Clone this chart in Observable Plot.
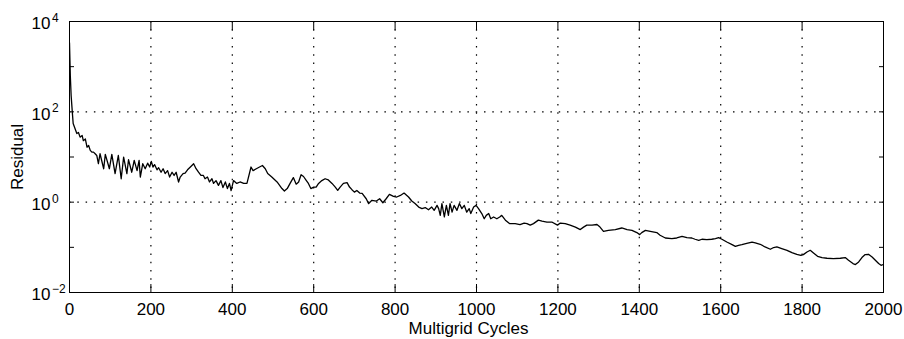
<!DOCTYPE html>
<html><head><meta charset="utf-8">
<script src="https://cdn.jsdelivr.net/npm/d3@7"></script>
<script src="https://cdn.jsdelivr.net/npm/@observablehq/plot@0.6"></script>
<style>
html,body{margin:0;padding:0;background:#fff;}
#chart{width:904px;height:339px;}
</style></head><body><div id="chart"></div>
<script>
const cycles = [
0,2,4,7,9,18,22,26,31,34,
39,43,47,51,55,59,63,67,71,75,
84,88,98,104,112,120,127,133,141,145,
153,159,166,171,174,180,186,192,197,201,
205,209,215,219,225,230,235,241,246,252,
257,262,268,272,279,284,290,297,305,311,
317,323,329,333,339,344,350,354,360,366,
372,377,383,388,393,397,403,411,419,428,
436,446,451,459,467,474,481,487,497,510,
522,528,535,542,550,557,563,569,575,582,
587,593,600,606,612,620,628,636,645,653,
659,665,673,682,688,694,700,706,713,719,
729,735,743,754,762,770,778,786,796,804,
813,822,833,841,849,858,866,874,882,890,
896,903,907,911,915,921,926,931,935,940,
945,952,958,964,970,976,982,986,993,999,
1005,1013,1019,1024,1030,1035,1042,1050,1057,1062,
1071,1081,1095,1107,1117,1124,1132,1140,1152,1161,
1173,1185,1199,1206,1218,1230,1243,1255,1263,1271,
1284,1296,1302,1312,1324,1341,1357,1370,1382,1394,
1401,1406,1415,1427,1443,1451,1464,1480,1492,1505,
1517,1529,1537,1546,1554,1566,1578,1587,1595,1603,
1615,1628,1636,1644,1652,1664,1677,1685,1697,1709,
1722,1730,1738,1750,1763,1775,1787,1797,1803,1812,
1820,1828,1838,1849,1861,1877,1894,1906,1914,1925,
1931,1939,1947,1955,1963,1972,1980,1988,1994,2000
];
const residual = [
3400,630,230,96,55,33,35,27.5,30,23,
25,16.5,18,14,12.8,12.8,11.8,10.8,7.1,11.8,
5.5,11.4,5.5,11.4,4.3,10.8,3.3,9.9,4.3,8.7,
4.6,8.4,5.0,8.4,3.6,7.1,5.5,7.3,6.0,8.0,
6.0,6.8,5.2,5.8,4.6,5.5,4.3,5.0,3.6,4.6,
3.9,4.6,2.8,3.6,4.3,4.4,5.2,6.0,7.1,5.5,
4.6,3.9,3.9,3.3,3.6,2.8,3.3,2.6,3.0,2.35,
3.0,2.1,2.8,2.0,2.6,1.8,3.0,2.6,2.8,2.6,
2.6,6.0,5.0,5.5,6.0,6.5,5.5,4.3,3.6,2.8,
2.0,1.76,2.0,2.6,3.5,2.5,2.8,4.05,3.7,3.0,
2.6,2.0,2.16,2.16,2.6,3.0,3.3,3.1,2.6,2.16,
1.82,2.16,2.6,2.7,2.16,1.89,1.67,1.82,1.59,1.56,
1.19,0.93,1.1,1.06,1.19,0.97,1.19,1.49,1.34,1.3,
1.41,1.59,1.3,1.06,0.93,0.78,0.72,0.76,0.68,0.78,
0.66,0.85,0.72,0.51,0.93,0.47,0.85,0.51,0.93,0.6,
0.85,0.66,0.93,0.72,0.85,0.6,0.72,0.56,0.78,0.85,
0.72,0.56,0.43,0.51,0.56,0.43,0.47,0.43,0.47,0.51,
0.4,0.335,0.335,0.32,0.345,0.335,0.31,0.335,0.4,0.38,
0.363,0.363,0.31,0.345,0.335,0.31,0.28,0.247,0.28,0.31,
0.31,0.32,0.29,0.226,0.238,0.247,0.268,0.247,0.238,0.212,
0.191,0.212,0.238,0.226,0.212,0.185,0.161,0.156,0.161,0.175,
0.164,0.161,0.151,0.143,0.151,0.148,0.151,0.156,0.164,0.151,
0.131,0.115,0.105,0.111,0.115,0.123,0.131,0.125,0.117,0.102,
0.0906,0.099,0.102,0.094,0.086,0.0766,0.0702,0.0667,0.069,0.0789,
0.086,0.075,0.0634,0.0593,0.0573,0.0564,0.0573,0.0593,0.0518,0.0437,
0.0416,0.0474,0.0593,0.0692,0.0702,0.0612,0.0518,0.0437,0.0401,0.0416
];
const xTicks = [0,200,400,600,800,1000,1200,1400,1600,1800,2000];
const xGrid = [200,400,600,800,1000,1200,1400,1600,1800];
const yMajor = [1e-2,1,1e2,1e4];
const yExponents = ["\u22122","0","2","4"];
const yTickMarks = [1e-2,1e-1,1,10,100,1e3,1e4];
const yGrid = [1,100];
const xLabel = "Multigrid Cycles";
const yLabel = "Residual";

const data = cycles.map((c, i) => ({cycle: c, residual: residual[i]}));
const font = "'Liberation Sans', Arial, Helvetica, sans-serif";
const dots = "1.5,6.8";

const chart = Plot.plot({
  width: 904, height: 339,
  marginLeft: 69, marginRight: 21, marginTop: 21, marginBottom: 47,
  style: {fontFamily: font, fontSize: "17px", background: "white", color: "black", overflow: "visible"},
  x: {domain: [0, 2000], label: null},
  y: {type: "log", domain: [1e-2, 1e4], label: null},
  marks: [
    Plot.gridX(xGrid, {stroke: "black", strokeOpacity: 1, strokeWidth: 1.2, strokeDasharray: dots}),
    Plot.gridY(yGrid, {stroke: "black", strokeOpacity: 1, strokeWidth: 1.2, strokeDasharray: dots}),
    Plot.axisX(xTicks, {anchor: "bottom", tickSize: -8, tickPadding: 18, label: null, tickFormat: d => String(d)}),
    Plot.axisX(xTicks, {anchor: "top", tickSize: -8, label: null, tickFormat: () => ""}),
    Plot.axisY(yTickMarks, {anchor: "left", tickSize: -5, label: null, tickFormat: () => ""}),
    Plot.axisY(yTickMarks, {anchor: "right", tickSize: -5, label: null, tickFormat: () => ""}),
    Plot.text(yMajor, {frameAnchor: "left", y: d => d, text: () => "10", textAnchor: "end", lineAnchor: "middle", dx: -19, dy: 2.5, fontSize: 17}),
    Plot.text(yMajor, {frameAnchor: "left", y: d => d, text: (d, i) => yExponents[i], textAnchor: "start", lineAnchor: "bottom", dx: -17.5, dy: 0.5, fontSize: 12}),
    Plot.line(data, {x: "cycle", y: "residual", stroke: "black", strokeWidth: 1.3, clip: true}),
    Plot.frame({stroke: "black", strokeWidth: 1}),
    Plot.text([xLabel], {frameAnchor: "bottom", text: d => d, dy: 41, dx: -8, lineAnchor: "bottom", fontSize: 17}),
    Plot.text([yLabel], {frameAnchor: "left", text: d => d, rotate: -90, dx: -52, textAnchor: "middle", lineAnchor: "middle", fontSize: 17})
  ]
});
document.getElementById("chart").appendChild(chart);
</script>
</body></html>
